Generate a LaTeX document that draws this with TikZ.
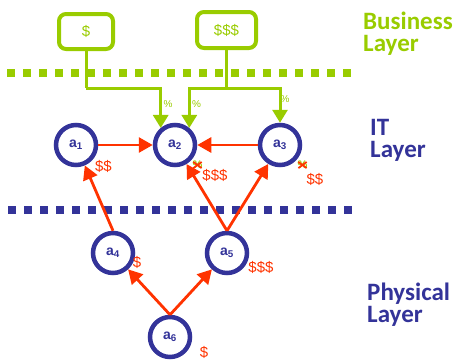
\documentclass[tikz,border=0pt]{standalone}
\usepackage{fontspec}
\setmainfont{Liberation Sans}
\newfontfamily\layerfont{Carlito}
\usetikzlibrary{arrows.meta}
\definecolor{bgreen}{RGB}{153,204,0}
\definecolor{iblue}{RGB}{51,51,153}
\definecolor{rred}{RGB}{255,51,0}
\begin{document}
\begin{tikzpicture}[x=1pt,y=-1pt,
  comp/.style={circle, draw=iblue, line width=4.5pt, fill=white, minimum size=40pt, inner sep=0pt,
    font=\fontsize{14}{14}\selectfont\bfseries, text=iblue},
  bizbox/.style={draw=bgreen, line width=4pt, rounded corners=7pt, text=bgreen,
    font=\fontsize{15}{15}\selectfont, inner sep=0pt},
  cost/.style={text=rred, font=\fontsize{15}{15}\selectfont, inner sep=0pt},
  pct/.style={text=bgreen, font=\fontsize{10}{10}\selectfont, inner sep=0pt},
  xpct/.style={text=bgreen, font=\fontsize{11}{11}\selectfont\bfseries, inner sep=0pt},
  dep/.style={draw=rred, line width=2.8pt, -{Triangle[length=14pt,width=15pt]}},
  gline/.style={draw=bgreen, line width=3pt},
  garrow/.style={gline, -{Triangle[length=13pt,width=15pt]}},
  sepline/.style={line width=8pt, dash pattern=on 8pt off 8pt},
  layer/.style={anchor=north west, inner sep=0pt, align=left,
    font=\layerfont\fontsize{25}{22}\selectfont\bfseries},
  xmark/.style={draw=rred, line width=1.8pt}
]
\useasboundingbox (0,0) rectangle (459,360);

% layer separators
\coordinate (gl0) at (7,73);
\coordinate (gl1) at (352,73);
\draw[sepline, bgreen] (gl0) -- (gl1);
\coordinate (bl0) at (8,210);
\coordinate (bl1) at (354,210);
\draw[sepline, iblue] (bl0) -- (bl1);

% business boxes
\node[bizbox, minimum width=54pt, minimum height=35pt] (b1) at (86,31.5) {\$};
\node[bizbox, minimum width=59pt, minimum height=36pt] (b2) at (226.5,30) {\$\$\$};

% components
\node[comp] (a1) at (76,145) {a\textsubscript{1}};
\node[comp] (a2) at (175,145) {a\textsubscript{2}};
\node[comp] (a3) at (280,145) {a\textsubscript{3}};
\node[comp] (a4) at (113,253) {a\textsubscript{4}};
\node[comp] (a5) at (227,253) {a\textsubscript{5}};
\node[comp] (a6) at (170,337) {a\textsubscript{6}};

% business connectors
\coordinate (r1) at (0,88);
\coordinate (j1) at (b1.south |- r1);
\coordinate (j2) at (b2.south |- r1);
\draw[gline] (b1.south) -- (j1);
\draw[garrow] (j1) -| (a2.130);
\draw[gline] (b2.south) -- (j2);
\draw[garrow] (j2) -| (a2.50);
\draw[garrow] (j2) -| (a3.90);

\node[pct] (p1) at (168,104) {\%};
\node[pct] (p2) at (196.5,104) {\%};
\node[pct] (p3) at (285,99) {\%};

% dependencies
\draw[dep] (a1) -- (a2);
\draw[dep] (a3) -- (a2);
\draw[dep] (a4.north) -- (a1);
\draw[dep] (a5.north) -- (a2);
\draw[dep] (a5.north) -- (a3);
\draw[dep] (a6.north) -- (a4);
\draw[dep] (a6.north) -- (a5);

% costs
\node[cost] (c1) at (103.5,166) {\$\$};
\node[cost] (c2) at (215,175) {\$\$\$};
\node[cost] (c3) at (315,179) {\$\$};
\node[cost] (c4) at (137,262) {\$};
\node[cost] (c5) at (261,267) {\$\$\$};
\node[cost] (c6) at (204,352) {\$};

% crossed-out percentages
\node[xpct] (x2) at (197.5,165) {\%};
\draw[xmark] ([shift={(1,1)}]x2.north west) -- ([shift={(-1,-1)}]x2.south east);
\draw[xmark] ([shift={(-1,1)}]x2.north east) -- ([shift={(1,-1)}]x2.south west);
\node[xpct] (x3) at (302.5,165) {\%};
\draw[xmark] ([shift={(1,1)}]x3.north west) -- ([shift={(-1,-1)}]x3.south east);
\draw[xmark] ([shift={(-1,1)}]x3.north east) -- ([shift={(1,-1)}]x3.south west);

% layer labels
\node[layer, text=bgreen] (lb) at (363,12) {Business\\Layer};
\node[layer, text=iblue] (li) at (370,119) {IT\\Layer};
\node[layer, text=iblue] (lp) at (367,283) {Physical\\Layer};
\end{tikzpicture}
\end{document}
